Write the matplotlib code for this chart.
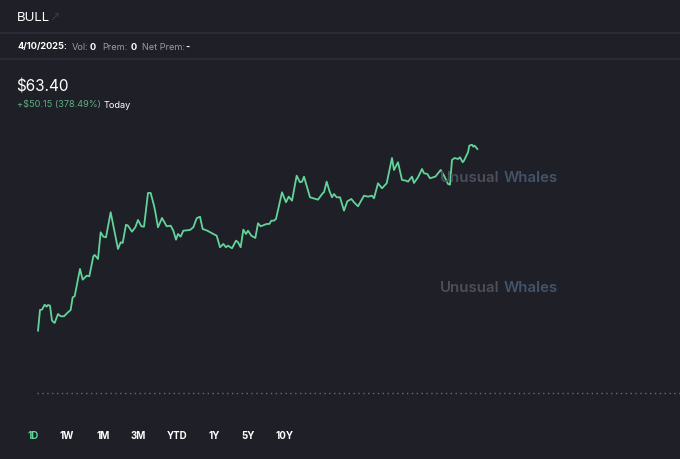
import matplotlib
matplotlib.use('Agg')
import matplotlib.pyplot as plt
from matplotlib.lines import Line2D

plt.rcParams['font.family'] = ['Inter', 'DejaVu Sans']

# minutes since the first print, and price
minutes = [0, 3, 6, 10, 13, 15, 18, 21, 25, 30, 34, 39, 45, 49, 52, 55, 63, 67, 73, 77,
           83, 85, 90, 94, 98, 102, 109, 113, 120, 124, 127, 132, 135, 141, 146, 150, 155, 159, 165, 169,
           174, 176, 180, 186, 193, 199, 203, 207, 210, 214, 218, 228, 233, 238, 243, 247, 254, 263, 268, 273,
           278, 282, 285, 291, 297, 300, 304, 308, 312, 315, 320, 326, 330, 334, 343, 347, 350, 354, 357, 366,
           372, 376, 381, 388, 393, 396, 399, 403, 408, 413, 420, 427, 429, 433, 437, 441, 444, 448, 453, 459,
           464, 470, 474, 480, 489, 495, 501, 504, 510, 516, 523, 531, 534, 540, 546, 552, 555, 561, 564, 570,
           576, 579, 584, 588, 596, 604, 609, 615, 618, 621, 625, 630, 633, 637, 639, 645, 647, 651, 653, 655,
           659]
prices = [26.06, 30.31, 30.38, 31.40, 30.99, 31.34, 31.20, 28.12, 27.64, 29.49, 29.02, 29.02, 29.84, 30.31, 32.92, 33.13, 38.74, 36.54, 37.36, 37.24,
          41.35, 41.62, 40.79, 46.28, 45.38, 45.25, 50.39, 47.64, 42.85, 44.23, 44.08, 47.84, 47.64, 46.40, 47.31, 48.81, 47.51, 47.43, 54.36, 54.36,
          51.75, 50.45, 47.31, 49.22, 47.51, 47.64, 46.61, 44.76, 45.93, 45.38, 46.61, 46.75, 47.31, 49.16, 49.49, 46.96, 46.61, 45.93, 45.58, 43.20,
          43.88, 43.20, 43.53, 42.99, 44.56, 44.23, 43.20, 46.82, 45.93, 46.61, 45.58, 45.11, 48.13, 47.51, 47.99, 47.99, 48.67, 48.67, 49.01, 54.50,
          52.45, 53.60, 52.78, 57.91, 56.56, 56.68, 57.71, 55.86, 53.47, 53.27, 52.98, 54.30, 54.50, 56.68, 54.83, 53.47, 54.15, 53.47, 53.47, 50.72,
          52.65, 53.12, 52.45, 51.62, 53.80, 53.60, 53.80, 53.27, 56.35, 55.32, 56.35, 61.55, 59.08, 60.67, 57.03, 56.89, 56.68, 57.71, 56.41, 57.58,
          59.29, 58.41, 58.26, 57.38, 57.71, 59.08, 57.91, 56.21, 56.06, 61.14, 61.55, 61.34, 61.69, 60.67, 61.00, 62.72, 64.08, 64.28, 63.87, 64.08,
          63.40]
prev_close = 13.25
ranges = ['1D', '1W', '1M', '3M', 'YTD', '1Y', '5Y', '10Y']
range_x = [33, 67, 103, 138, 177, 214, 248, 284]

W, H = 680, 460
BG = '#1f1f27'
GREEN = '#62d49a'

fig = plt.figure(figsize=(W / 100, H / 100), dpi=100, facecolor=BG)


def px(x, y):
    return x / W, 1 - y / H


# header separators
for yy in (34, 60):
    fig.add_artist(Line2D([0, 1], [1 - yy / H] * 2, color='#2e2e38', lw=1.2))

fig.text(*px(17, 18), 'BULL', color='white', fontsize=9.5, va='center')
fig.text(*px(49, 17), '\u2197', color='#383842', fontsize=9, va='center',
         family=['DejaVu Sans'])

row = [(17, '4/10/2025:', 'white', 'bold'), (72, 'Vol:', '#9a9aa4', 'normal'),
       (89.5, '0', 'white', 'bold'), (102, 'Prem:', '#9a9aa4', 'normal'),
       (130.5, '0', 'white', 'bold'), (142, 'Net Prem:', '#9a9aa4', 'normal'),
       (185.5, '-', 'white', 'bold')]
for x, s, c, w in row:
    fig.text(*px(x, 47), s, color=c, fontsize=6.6, fontweight=w, va='center')

fig.text(*px(16, 87), '$63.40', color='white', fontsize=11, va='center')
fig.text(*px(17, 105), '+$50.15 (378.49%)', color='#5fae84', fontsize=6.6, va='center')
fig.text(*px(104, 105), 'Today', color='white', fontsize=6.6, va='center')

# chart area
ax = fig.add_axes([37 / W, (H - 394) / H, 643 / W, 254 / H])
ax.set_facecolor('none')
ax.plot(minutes, prices, color=GREEN, lw=1.3, solid_joinstyle='round')
ax.axhline(prev_close, color='#6a6a74', lw=1.0, ls=(0, (1, 2.5)), clip_on=False)
ax.set_xlim(-1.5, 963)
ax.set_ylim(prev_close, 65.45)
ax.axis('off')

for yy in (178, 288):
    fig.text(*px(440, yy), 'Unusual', color='#4b4f5b', fontsize=10.8,
             fontweight='semibold', va='center')
    fig.text(*px(504, yy), 'Whales', color='#435468', fontsize=10.8,
             fontweight='semibold', va='center')

for x, s in zip(range_x, ranges):
    c = GREEN if s == '1D' else 'white'
    fig.text(*px(x, 436), s, color=c, fontsize=7, fontweight='bold',
             ha='center', va='center')

fig.savefig('out.png', dpi=100, facecolor=BG)
